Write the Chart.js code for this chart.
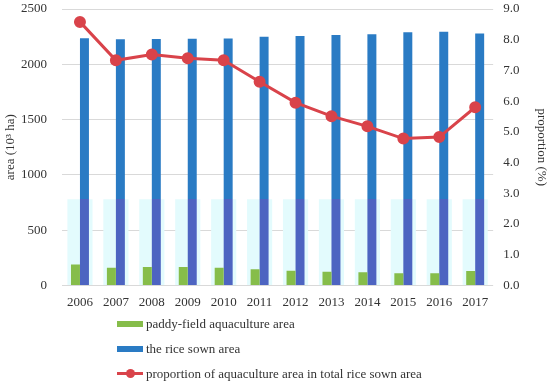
<!DOCTYPE html>
<html>
<head>
<meta charset="utf-8">
<script src="https://cdn.jsdelivr.net/npm/chart.js@4.4.1/dist/chart.umd.min.js"></script>
<style>
    body { margin: 0; background: #fff; }
    #wrap { position: relative; width: 550px; height: 387px; }
    #legend { position: absolute; left: 117px; top: 311px; font: 13px "Liberation Serif", serif; color: #333; }
    .item { height: 25px; display: flex; align-items: center; white-space: nowrap; }
    .swatch { position: relative; width: 26px; height: 6px; margin-right: 3px; }
    .swatch.line { height: 3px; }
    .dot { position: absolute; left: 9px; top: -3.5px; width: 9px; height: 9px; border-radius: 50%; }
</style>
</head>
<body>
<div id="wrap">
    <canvas id="chart" width="550" height="387"></canvas>
    <div id="legend"></div>
</div>
<script>
// Years on the x axis
const years = ['2006', '2007', '2008', '2009', '2010', '2011',
    '2012', '2013', '2014', '2015', '2016', '2017'];

// Area values (10^3 ha)
const aquacultureArea = [190, 160, 166, 166, 160, 145, 133, 124, 118, 109, 109, 130];
const riceSownArea = [2235, 2227, 2229, 2232, 2233, 2250, 2255, 2265, 2272, 2290, 2294, 2278];

// Proportion (%)
const proportion = [8.58, 7.33, 7.52, 7.40, 7.33, 6.63, 5.95, 5.51, 5.18, 4.78, 4.83, 5.80];

// Faint shaded band behind the bars (10^3 ha)
const shadeLevel = [780, 780, 780, 780, 780, 780, 780, 780, 780, 780, 780, 780];

const green = '#86bd4a';
const blue = '#2a7bc4';
const purple = '#4d64c1';
const red = '#d9434a';
const font = { family: '"Liberation Serif", serif', size: 13 };

// Blue bars turn purplish where they overlap the shaded band
function riceColor(context) {
    const chart = context.chart;
    const area = chart.chartArea;
    if (!area) return blue;
    const cut = chart.scales.y.getPixelForValue(shadeLevel[0]);
    const t = (cut - area.top) / (area.bottom - area.top);
    const g = chart.ctx.createLinearGradient(0, area.top, 0, area.bottom);
    g.addColorStop(0, blue);
    g.addColorStop(t, blue);
    g.addColorStop(t, purple);
    g.addColorStop(1, purple);
    return g;
}

const chart = new Chart(document.getElementById('chart'), {
    data: {
        labels: years,
        datasets: [
            {
                type: 'line',
                label: 'proportion of aquaculture area in total rice sown area',
                data: proportion,
                yAxisID: 'y1',
                borderColor: red,
                backgroundColor: red,
                borderWidth: 3,
                pointRadius: 4.5,
                pointHoverRadius: 4.5,
                order: 0
            },
            {
                type: 'bar',
                label: 'paddy-field aquaculture area',
                data: aquacultureArea,
                yAxisID: 'y',
                backgroundColor: green,
                categoryPercentage: 0.5,
                barPercentage: 1.0,
                order: 1
            },
            {
                type: 'bar',
                label: 'the rice sown area',
                data: riceSownArea,
                yAxisID: 'y',
                backgroundColor: riceColor,
                categoryPercentage: 0.5,
                barPercentage: 1.0,
                order: 2
            },
            {
                type: 'bar',
                label: 'shade',
                data: shadeLevel,
                yAxisID: 'y',
                backgroundColor: '#e3fbfd',
                grouped: false,
                categoryPercentage: 0.7,
                barPercentage: 1.0,
                order: 3
            }
        ]
    },
    options: {
        responsive: false,
        animation: false,
        layout: { autoPadding: false, padding: { left: 3, right: 0, top: 9, bottom: 76 } },
        plugins: {
            legend: { display: false },
            tooltip: { enabled: false }
        },
        scales: {
            x: {
                grid: { display: false },
                border: { display: false },
                ticks: { font: font, color: '#333', padding: 1 }
            },
            y: {
                position: 'left',
                min: 0,
                max: 2500,
                ticks: { stepSize: 500, font: font, color: '#333', padding: 1, callback: v => String(v) },
                // invisible tick marks keep the labels away from the plot
                grid: { color: '#d9d9d9', tickLength: 14, tickColor: 'rgba(0,0,0,0)' },
                border: { display: false },
                title: {
                    display: true,
                    text: 'area (10³ ha)',
                    font: font,
                    color: '#333',
                    padding: { top: 0, bottom: 1.4 }
                }
            },
            y1: {
                position: 'right',
                min: 0,
                max: 9,
                ticks: {
                    stepSize: 1,
                    font: font,
                    color: '#333',
                    padding: 1,
                    callback: v => v.toFixed(1)
                },
                grid: { drawOnChartArea: false, tickLength: 9, tickColor: 'rgba(0,0,0,0)' },
                border: { display: false },
                title: {
                    display: true,
                    text: 'proportion (%)',
                    font: font,
                    color: '#333',
                    padding: { top: 1, bottom: 13 }
                }
            }
        }
    }
});

// Build the legend below the chart, one entry per line
const legend = document.getElementById('legend');
[1, 2, 0].forEach(i => {
    const ds = chart.data.datasets[i];
    const row = document.createElement('div');
    row.className = 'item';
    const sw = document.createElement('span');
    if (ds.type === 'line') {
        sw.className = 'swatch line';
        sw.style.background = ds.borderColor;
        const dot = document.createElement('span');
        dot.className = 'dot';
        dot.style.background = ds.backgroundColor;
        sw.appendChild(dot);
    } else {
        sw.className = 'swatch';
        sw.style.background = i === 2 ? blue : ds.backgroundColor;
    }
    row.appendChild(sw);
    row.appendChild(document.createTextNode(ds.label));
    legend.appendChild(row);
});
</script>
</body>
</html>
